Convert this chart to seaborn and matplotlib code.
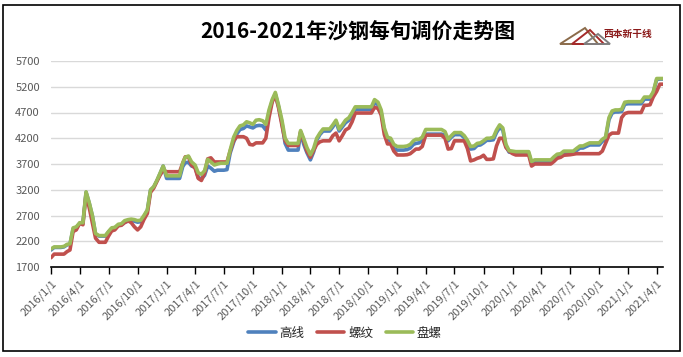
import numpy as np
import pandas as pd
import matplotlib
matplotlib.use('Agg')
import matplotlib.pyplot as plt
import matplotlib.dates as mdates
from matplotlib.patches import Rectangle, Polygon
import seaborn as sns

# dekad dates (1st, 11th, 21st of every month), 2016/1/1 .. 2021/4/21
dates = [pd.Timestamp(y, m, d) for y in range(2016, 2022) for m in range(1, 13) for d in (1, 11, 21)]
dates = [t for t in dates if t <= pd.Timestamp(2021, 4, 21)]

series_names = ['高线', '螺纹', '盘螺']
colors = ['#4F81BD', '#C0504D', '#9BBB59']

# 高线 (wire rod)
gaoxian = [
    2030, 2080, 2080, 2080, 2090, 2130, 2140, 2440, 2460, 2550, 2550, 3150,
    2940, 2690, 2340, 2300, 2300, 2300, 2380, 2450, 2460, 2510, 2520, 2570,
    2590, 2600, 2590, 2570, 2580, 2670, 2800, 3190, 3250, 3370, 3510, 3660,
    # 2017
    3420, 3420, 3420, 3420, 3420, 3650, 3725, 3735, 3660, 3640, 3440, 3410,
    3480, 3660, 3620, 3560, 3580, 3580, 3580, 3590, 3910, 4120, 4280, 4370,
    4390, 4440, 4420, 4400, 4440, 4450, 4440, 4360, 4700, 4920, 5060, 4820,
    # 2018
    4500, 4100, 3970, 3970, 3970, 3970, 4310, 4080, 3920, 3780, 3930, 4160,
    4270, 4340, 4340, 4340, 4420, 4520, 4340, 4420, 4500, 4550, 4650, 4760,
    4760, 4760, 4760, 4760, 4760, 4890, 4850, 4700, 4350, 4180, 4150, 4000,
    # 2019
    3970, 3970, 3970, 3980, 4010, 4080, 4100, 4110, 4160, 4280, 4280, 4280,
    4280, 4280, 4280, 4260, 4150, 4220, 4270, 4270, 4270, 4210, 4130, 3990,
    4000, 4060, 4070, 4110, 4160, 4160, 4170, 4310, 4410, 4360, 4040, 3930,
    # 2020
    3920, 3910, 3910, 3910, 3910, 3910, 3710, 3740, 3740, 3740, 3740, 3740,
    3740, 3800, 3860, 3870, 3910, 3910, 3910, 3910, 3960, 4010, 4010, 4040,
    4070, 4070, 4070, 4070, 4140, 4180, 4560, 4690, 4710, 4710, 4720, 4860,
    # 2021
    4870, 4870, 4870, 4870, 4870, 4960, 4960, 4960, 5080, 5340, 5350, 5350,
]

# 螺纹 (rebar)
luowen = [
    1880, 1950, 1950, 1950, 1950, 2000, 2030, 2390, 2420, 2550, 2520, 3120,
    2850, 2560, 2260, 2180, 2180, 2180, 2300, 2400, 2420, 2500, 2510, 2560,
    2600, 2560, 2480, 2420, 2480, 2620, 2740, 3150, 3230, 3360, 3480, 3580,
    # 2017
    3550, 3550, 3550, 3550, 3550, 3720, 3840, 3840, 3680, 3620, 3420, 3380,
    3520, 3800, 3820, 3740, 3740, 3740, 3740, 3740, 3950, 4150, 4230, 4230,
    4230, 4200, 4080, 4070, 4110, 4110, 4110, 4200, 4600, 4900, 5040, 4800,
    # 2018
    4450, 4150, 4060, 4060, 4060, 4060, 4330, 4150, 3950, 3830, 3960, 4080,
    4130, 4150, 4150, 4150, 4250, 4300, 4150, 4250, 4360, 4400, 4520, 4690,
    4690, 4690, 4690, 4690, 4690, 4800, 4780, 4650, 4270, 4090, 4090, 3950,
    # 2019
    3875, 3875, 3875, 3880, 3900, 3950, 3990, 3990, 4040, 4260, 4260, 4260,
    4260, 4260, 4260, 4200, 3990, 4000, 4150, 4150, 4150, 4150, 4000, 3760,
    3780, 3810, 3830, 3870, 3790, 3790, 3800, 4050, 4200, 4200, 4020, 3950,
    # 2020
    3900, 3875, 3875, 3875, 3875, 3875, 3660, 3700, 3700, 3700, 3700, 3700,
    3700, 3750, 3810, 3830, 3870, 3875, 3880, 3890, 3900, 3900, 3900, 3900,
    3900, 3900, 3900, 3900, 3950, 4100, 4260, 4300, 4300, 4300, 4600, 4680,
    # 2021
    4700, 4700, 4700, 4700, 4700, 4840, 4840, 4850, 5000, 5110, 5250, 5250,
]

# 盘螺 (coiled rebar)
panluo = [
    2050, 2090, 2090, 2090, 2100, 2140, 2150, 2460, 2480, 2560, 2560, 3160,
    2950, 2700, 2350, 2310, 2310, 2310, 2390, 2460, 2470, 2530, 2540, 2600,
    2620, 2630, 2620, 2600, 2610, 2700, 2810, 3200, 3260, 3380, 3520, 3660,
    # 2017
    3470, 3470, 3470, 3470, 3470, 3720, 3830, 3855, 3740, 3680, 3530, 3500,
    3570, 3790, 3740, 3680, 3700, 3715, 3715, 3715, 3970, 4220, 4350, 4440,
    4460, 4520, 4500, 4470, 4550, 4560, 4540, 4470, 4750, 4950, 5090, 4850,
    # 2018
    4550, 4200, 4100, 4100, 4100, 4100, 4350, 4190, 4020, 3880, 4000, 4200,
    4300, 4380, 4380, 4380, 4460, 4550, 4380, 4460, 4550, 4600, 4700, 4810,
    4810, 4810, 4810, 4810, 4810, 4950, 4900, 4750, 4400, 4220, 4200, 4080,
    # 2019
    4040, 4040, 4040, 4050, 4080, 4150, 4180, 4180, 4220, 4370, 4370, 4370,
    4370, 4370, 4370, 4330, 4180, 4250, 4310, 4310, 4310, 4250, 4160, 4040,
    4050, 4100, 4110, 4150, 4200, 4200, 4220, 4360, 4460, 4400, 4080, 3960,
    # 2020
    3950, 3940, 3940, 3940, 3940, 3940, 3750, 3780, 3780, 3780, 3780, 3780,
    3780, 3840, 3890, 3900, 3950, 3950, 3950, 3950, 4000, 4050, 4050, 4080,
    4110, 4110, 4110, 4110, 4180, 4220, 4600, 4730, 4750, 4750, 4760, 4900,
    # 2021
    4910, 4910, 4910, 4910, 4910, 5000, 5000, 5000, 5100, 5360, 5360, 5360,
]

yticks = list(range(1700, 5701, 500))

# long-form table for seaborn
df = pd.DataFrame({
    'date': dates * 3,
    'price': gaoxian + luowen + panluo,
    'kind': np.repeat(series_names, len(dates)),
})

sns.set_theme(style='white')
plt.rcParams['font.family'] = ['Noto Sans CJK SC', 'DejaVu Sans']

fig = plt.figure(figsize=(6.83, 3.57), dpi=100)
ax = fig.add_axes([51 / 683, 90 / 357, 612 / 683, 206 / 357])

sns.lineplot(data=df, x='date', y='price', hue='kind', hue_order=series_names,
             palette=colors, linewidth=2.6, ax=ax)

ax.set_xlim(dates[0], dates[-1])
ax.set_ylim(1700, 5700)
ax.set_yticks(yticks)
ax.yaxis.grid(True, color='#D9D9D9', linewidth=1)
ax.set_axisbelow(True)
ax.set_xlabel('')
ax.set_ylabel('')

# quarterly date ticks like "2016/1/1"
ax.xaxis.set_major_locator(mdates.MonthLocator(bymonth=[1, 4, 7, 10]))
ax.xaxis.set_major_formatter(plt.FuncFormatter(
    lambda v, p: '{0.year}/{0.month}/{0.day}'.format(mdates.num2date(v))))
for lab in ax.get_xticklabels():
    lab.set_rotation(45)
    lab.set_ha('right')
    lab.set_rotation_mode('anchor')
ax.tick_params(axis='x', which='major', bottom=True, length=5, width=1,
               color='black', labelsize=8, labelcolor='#595959', pad=3)
ax.tick_params(axis='y', left=False, length=0, labelsize=8, labelcolor='#595959', pad=8)

for s in ['top', 'right', 'left']:
    ax.spines[s].set_visible(False)
ax.spines['bottom'].set_color('black')
ax.spines['bottom'].set_linewidth(1.2)

# legend at the bottom
handles, labels = ax.get_legend_handles_labels()
ax.legend(handles, labels, loc='center', bbox_to_anchor=(0.5 - 12 / 612, -0.322),
          ncol=3, frameon=False, fontsize=9, handlelength=2.2, handletextpad=0.3,
          columnspacing=1.0)

# title
fig.text(358 / 683, 1 - 31 / 357, '2016-2021年沙钢每旬调价走势图',
         ha='center', va='center', fontsize=15, fontweight='bold', color='black')

# logo (approximation)
logo = [
    ([560, 585, 598], [44, 28, 44], '#8B6B4A'),
    ([572, 590, 604], [44, 30, 44], '#A52A2A'),
    ([584, 598, 610], [44, 34, 44], '#7F7F7F'),
]
for xs, ys, c in logo:
    fig.patches.append(Polygon(list(zip([x / 683 for x in xs], [1 - y / 357 for y in ys])),
                               closed=True, transform=fig.transFigure, facecolor='none',
                               edgecolor=c, linewidth=1.4))
fig.text(628 / 683, 1 - 34 / 357, '西本新干线', ha='center', va='center',
         fontsize=7, fontweight='bold', color='#8B1A1A')

# chart border
fig.patches.append(Rectangle((3 / 683, 1 - 351 / 357), 677 / 683, 346 / 357,
                             transform=fig.transFigure, facecolor='none',
                             edgecolor='black', linewidth=1.2))

fig.savefig('out.png', dpi=100)
